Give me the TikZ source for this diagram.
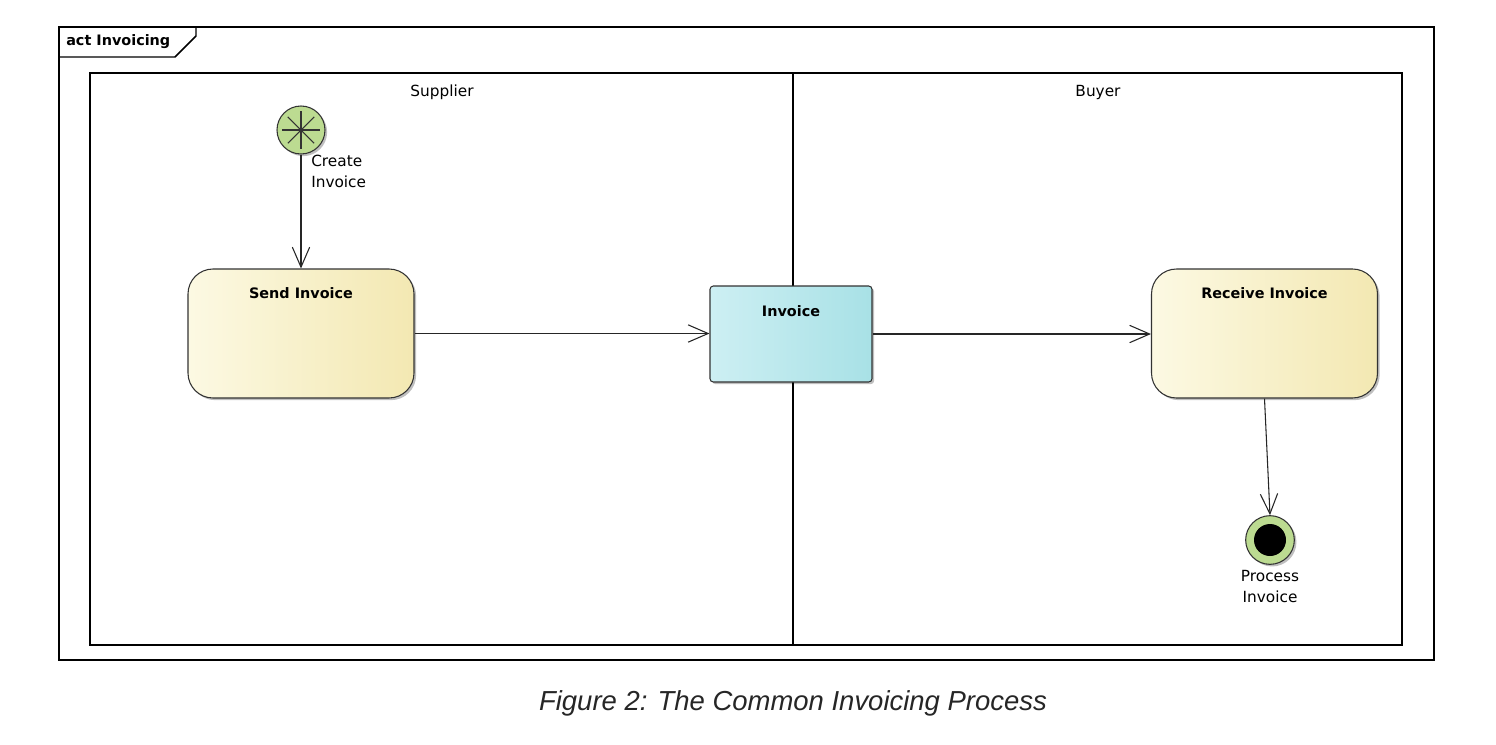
\documentclass[tikz,border=0pt]{standalone}
\usepackage{fontspec}
\setmainfont{DejaVu Sans}
\newfontfamily\capfont{Liberation Sans}
\usetikzlibrary{arrows.meta,shadows}
\definecolor{actL}{HTML}{FCF9E3}
\definecolor{actR}{HTML}{F3E8B2}
\definecolor{objL}{HTML}{CDEFF3}
\definecolor{objR}{HTML}{A8E1E6}
\definecolor{nodegreen}{HTML}{BCDB91}
\definecolor{captxt}{HTML}{262626}
\tikzset{
  frameline/.style={line width=1.1pt, draw=black},
  lanelabel/.style={font=\fontsize{11.5}{14}\selectfont, inner sep=0pt},
  smalllabel/.style={font=\fontsize{11.5}{15.75}\selectfont, inner sep=0pt},
  shadowed/.style={drop shadow={shadow xshift=1.6pt, shadow yshift=-1.6pt, opacity=0.25, fill=black}},
  actbox/.style={draw=black!80, line width=0.8pt, rounded corners=18.75pt,
    left color=actL, right color=actR, shadowed,
    minimum width=169.5pt, minimum height=96.75pt, inner sep=0pt},
  objbox/.style={draw=black!80, line width=0.8pt, rounded corners=2.5pt,
    left color=objL, right color=objR, shadowed,
    minimum width=121.5pt, minimum height=72pt, inner sep=0pt},
  boxtitle/.style={font=\bfseries\fontsize{10.8}{13}\selectfont, inner sep=0pt, anchor=center},
  initnode/.style={circle, draw=black!80, line width=0.8pt, fill=nodegreen, shadowed,
    minimum size=36pt, inner sep=0pt,
    path picture={
      \foreach \a in {0,45,90,135}{
        \draw[line width=0.8pt] ([shift={(\a:14pt)}]path picture bounding box.center) -- ([shift={(\a+180:14pt)}]path picture bounding box.center);
      }}},
  finalnode/.style={circle, draw=black!80, line width=0.8pt, fill=nodegreen, shadowed,
    minimum size=36.5pt, inner sep=0pt,
    path picture={\fill[black] (path picture bounding box.center) circle (12pt);}},
  flow/.style={draw=black!85, line width=0.8pt, -{Straight Barb[length=15pt,width=13pt,line width=0.8pt]}}
}
\begin{document}
\begin{tikzpicture}[x=0.75pt,y=-0.75pt]
\useasboundingbox (0,0) rectangle (1496,744);
\fill[white] (0,0) rectangle (1496,744);
% frame
\draw[frameline] (59,27) rectangle (1434,660);
\draw[frameline] (59,57) -- (175,57) -- (196,36) -- (196,27);
\node[font=\bfseries\fontsize{10.8}{13}\selectfont, anchor=west, inner sep=0pt] (acttitle) at (66,42) {act Invoicing};
% pool
\draw[frameline] (90,73) rectangle (1402,645);
\draw[frameline] (793,73) -- (793,645);
\node[lanelabel] (supplier) at (442,92.5) {Supplier};
\node[lanelabel] (buyer) at (1098,92.5) {Buyer};
% nodes
\node[initnode] (init) at (301,130) {};
\node[smalllabel, anchor=west, align=left] (initlbl) at (311,171.5) {Create\\Invoice};
\node[actbox, label={[boxtitle, yshift=-18.75pt]north:Send Invoice}] (send) at (301,333.5) {};
\node[objbox, label={[boxtitle, yshift=-19pt]north:Invoice}] (inv) at (791,334) {};
\node[actbox, label={[boxtitle, yshift=-18.75pt]north:Receive Invoice}] (recv) at (1264.5,333.5) {};
\node[finalnode] (fin) at (1270,540) {};
\node[smalllabel, align=center] (finlbl) at (1270,586.5) {Process\\Invoice};
% flows
\draw[flow] (init) -- (send);
\draw[flow] (send.east) -- (inv.west |- send.east);
\draw[flow] (inv.east) -- (recv.west |- inv.east);
\draw[flow] (recv.south) -- (fin.north);
% caption
\node[font=\capfont\itshape\fontsize{20.6}{24}\selectfont, text=captxt, inner sep=0pt] (caption) at (793,703) {Figure 2: The Common Invoicing Process};
\end{tikzpicture}
\end{document}
